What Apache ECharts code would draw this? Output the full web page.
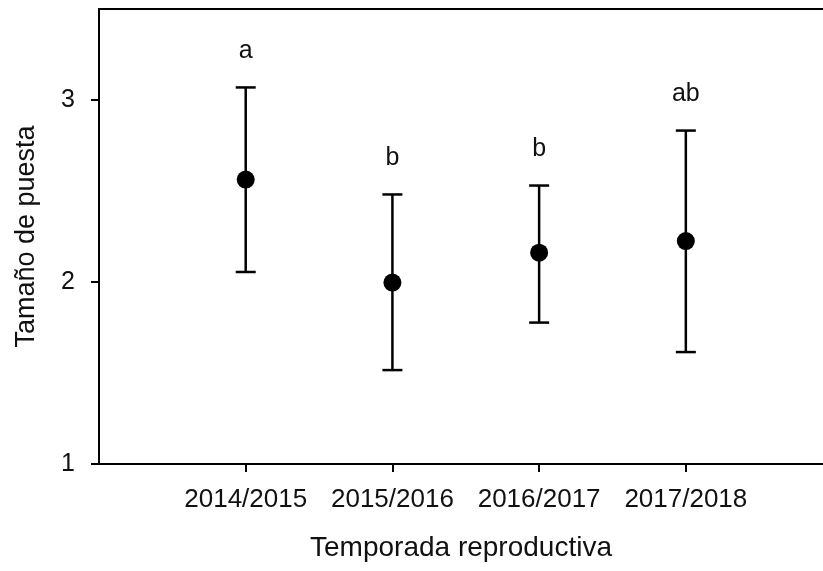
<!DOCTYPE html>
<html>
<head>
<meta charset="utf-8">
<script src="https://cdn.jsdelivr.net/npm/echarts@6/dist/echarts.min.js"></script>
<style>html,body{margin:0;padding:0;background:#fff;}#c{width:823px;height:571px;}</style>
</head>
<body>
<div id="c"></div>
<script>
const categories = ['2014/2015', '2015/2016', '2016/2017', '2017/2018'];
const means = [2.563, 1.997, 2.161, 2.225];
const upper = [3.069, 2.481, 2.530, 2.832];
const lower = [2.055, 1.516, 1.777, 1.615];
const letters = ['a', 'b', 'b', 'ab'];
const yTicks = [1, 2, 3];

const FONT = '"Liberation Sans", Arial, sans-serif';
const pos = categories.map((c, i) => i + 1);

const chart = echarts.init(document.getElementById('c'), null, {renderer: 'canvas'});
chart.setOption({
  animation: false,
  backgroundColor: '#fff',
  grid: {left: 99, top: 9, bottom: 107, right: 0},
  xAxis: [{
    type: 'value', min: 0, max: 4.935,
    name: 'Temporada reproductiva', nameLocation: 'middle', nameGap: 70,
    nameTextStyle: {fontFamily: FONT, fontSize: 28, color: '#111'},
    axisLine: {show: true, lineStyle: {color: '#000', width: 2}},
    axisTick: {show: true, length: 8, lineStyle: {color: '#000', width: 2}, customValues: pos},
    axisLabel: {customValues: pos, margin: 23, fontFamily: FONT, fontSize: 26, color: '#111',
      formatter: v => categories[Math.round(v) - 1] || ''},
    splitLine: {show: false}
  }, {
    type: 'value', min: 0, max: 4.935, position: 'top',
    axisLine: {show: true, onZero: false, lineStyle: {color: '#000', width: 2}},
    axisTick: {show: false}, axisLabel: {show: false}, splitLine: {show: false}
  }],
  yAxis: {
    type: 'value', min: 1, max: 3.5,
    name: 'Tamaño de puesta', nameLocation: 'middle', nameGap: 59,
    nameTextStyle: {fontFamily: FONT, fontSize: 27, color: '#111'},
    axisLine: {show: true, lineStyle: {color: '#000', width: 2}},
    axisTick: {show: true, length: 8, lineStyle: {color: '#000', width: 2}, customValues: yTicks},
    axisLabel: {customValues: yTicks, margin: 24, fontFamily: FONT, fontSize: 25, color: '#111'},
    splitLine: {show: false}
  },
  series: [
    {
      type: 'custom',
      data: pos.map((p, i) => [p, lower[i], upper[i], i]),
      renderItem: function (params, api) {
        const x = api.value(0);
        const lo = api.coord([x, api.value(1)]);
        const hi = api.coord([x, api.value(2)]);
        const idx = api.value(3);
        const hw = 10;
        const st = {stroke: '#000', lineWidth: 2.5};
        return {
          type: 'group',
          children: [
            {type: 'line', shape: {x1: lo[0], y1: lo[1], x2: hi[0], y2: hi[1]}, style: st},
            {type: 'line', shape: {x1: hi[0] - hw, y1: hi[1], x2: hi[0] + hw, y2: hi[1]}, style: st},
            {type: 'line', shape: {x1: lo[0] - hw, y1: lo[1], x2: lo[0] + hw, y2: lo[1]}, style: st},
            {type: 'text', style: {text: letters[idx], x: hi[0], y: hi[1] - 36, align: 'center', verticalAlign: 'middle',
              font: '25px ' + FONT, fill: '#111'}}
          ]
        };
      },
      z: 2
    },
    {
      type: 'scatter',
      data: pos.map((p, i) => [p, means[i]]),
      symbol: 'circle', symbolSize: 18,
      itemStyle: {color: '#000', opacity: 1},
      z: 3
    }
  ]
});
</script>
</body>
</html>
